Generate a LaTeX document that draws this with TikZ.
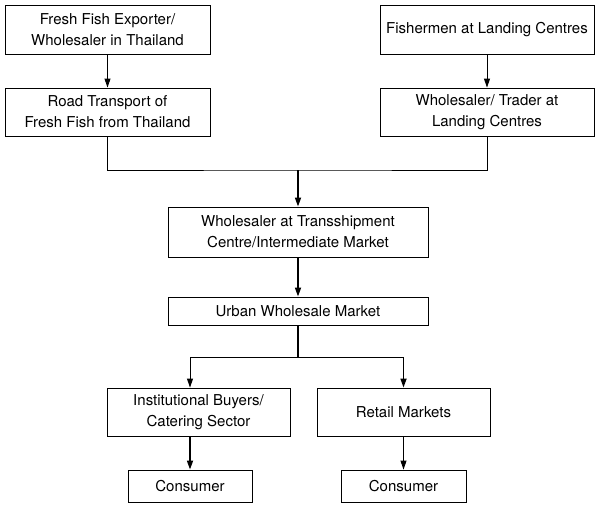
\documentclass[tikz,border=0pt]{standalone}
\usepackage{fontspec}
\setmainfont{TeX Gyre Heros}
\usetikzlibrary{arrows.meta}
\begin{document}
\begin{tikzpicture}[x=1pt, y=-1pt,
        box/.style={draw, line width=0.9pt, align=center, inner sep=0pt, font=\fontsize{15}{21}\selectfont},
        flow/.style={-{Triangle[length=9pt,width=6pt]}, line width=0.9pt},
        trunk/.style={flow, line width=1.6pt}]
        \useasboundingbox (0,0) rectangle (599,507);
        \node[box, minimum width=205pt, minimum height=49pt] (exporter) at (107.5,29.5) {Fresh Fish Exporter/\\Wholesaler in Thailand};
        \node[box, minimum width=214pt, minimum height=49pt] (fishermen) at (487,29.5) {Fishermen at Landing Centres};
        \node[box, minimum width=205pt, minimum height=48pt] (road) at (107.5,112) {Road Transport of\\Fresh Fish from Thailand};
        \node[box, minimum width=214pt, minimum height=48pt] (trader) at (487,112) {Wholesaler/ Trader at\\Landing Centres};
        \node[box, minimum width=260pt, minimum height=50pt] (transship) at (298,232) {Wholesaler at Transshipment\\Centre/Intermediate Market};
        \node[box, minimum width=260pt, minimum height=28pt] (urban) at (298,311) {Urban Wholesale Market};
        \node[box, minimum width=183pt, minimum height=48pt] (institution) at (198.5,412) {Institutional Buyers/\\Catering Sector};
        \node[box, minimum width=173pt, minimum height=48pt] (retail) at (403.5,412) {Retail Markets};
        \node[box, minimum width=124pt, minimum height=32pt] (consumerA) at (190,486) {Consumer};
        \node[box, minimum width=125pt, minimum height=32pt] (consumerB) at (403.5,486) {Consumer};
        \coordinate (join) at (298,170);
        \coordinate (split) at (298,357);
        \draw[flow] (exporter) -- (road);
        \draw[flow] (fishermen) -- (trader);
        \draw[line width=0.9pt] (road.south) |- (join) -| (trader.south); % both sources meet
        \draw[trunk] (join) -- (transship.north);
        \draw[trunk] (transship) -- (urban);
        \draw[line width=1.6pt] (urban.south) -- (split);
        \draw[line width=0.9pt] (consumerA |- split) -- (retail |- split); % branch to buyers
        \draw[flow] (consumerA |- split) -- (consumerA |- institution.north);
        \draw[trunk] (retail |- split) -- (retail.north);
        \draw[trunk] (consumerA |- institution.south) -- (consumerA.north);
        \draw[flow] (retail) -- (consumerB);
    \end{tikzpicture}
\end{document}
